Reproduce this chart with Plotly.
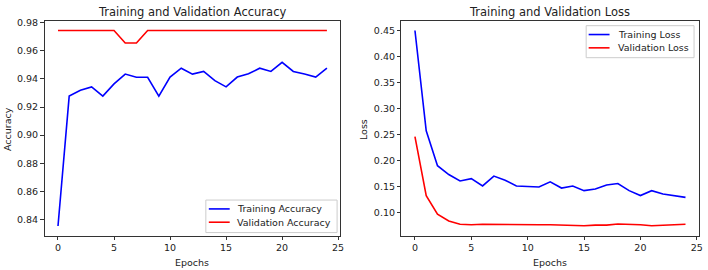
import plotly.graph_objects as go

epochs = list(range(25))

train_acc = [0.8353, 0.9278, 0.9320, 0.9344, 0.9278, 0.9365, 0.9435, 0.9412, 0.9412, 0.9278,
             0.9414, 0.9477, 0.9435, 0.9454, 0.9388, 0.9344, 0.9414, 0.9437, 0.9477, 0.9454,
             0.9519, 0.9454, 0.9435, 0.9414, 0.9477]
val_acc = [0.9746, 0.9746, 0.9746, 0.9746, 0.9746, 0.9746, 0.9657, 0.9657, 0.9746, 0.9746,
           0.9746, 0.9746, 0.9746, 0.9746, 0.9746, 0.9746, 0.9746, 0.9746, 0.9746, 0.9746,
           0.9746, 0.9746, 0.9746, 0.9746, 0.9746]
train_loss = [0.450, 0.257, 0.190, 0.173, 0.1606, 0.165, 0.151, 0.170, 0.162, 0.151,
              0.150, 0.149, 0.159, 0.147, 0.151, 0.142, 0.145, 0.153, 0.1556, 0.142,
              0.1325, 0.142, 0.1356, 0.1325, 0.129]
val_loss = [0.246, 0.1325, 0.0969, 0.0838, 0.0775, 0.0763, 0.0775, 0.0770, 0.0775, 0.0770,
            0.0763, 0.0763, 0.0763, 0.0756, 0.0744, 0.0744, 0.0756, 0.0756, 0.0780, 0.0775,
            0.0763, 0.0744, 0.0756, 0.0756, 0.0775]

acc_ticks = [0.84, 0.86, 0.88, 0.90, 0.92, 0.94, 0.96, 0.98]
loss_ticks = [0.10, 0.15, 0.20, 0.25, 0.30, 0.35, 0.40, 0.45]
x_ticks = [0, 5, 10, 15, 20, 25]

W, H = 708, 270
FONT = "DejaVu Sans"
TXT = "#222222"
SPINE = "#333333"
LW = 1.6

acc_series = [("Training Accuracy", train_acc, "blue"), ("Validation Accuracy", val_acc, "red")]
loss_series = [("Training Loss", train_loss, "blue"), ("Validation Loss", val_loss, "red")]

fig = go.Figure()
for name, vals, col in acc_series:
    fig.add_trace(go.Scatter(x=epochs, y=vals, mode="lines", name=name,
                             line=dict(color=col, width=LW), xaxis="x", yaxis="y"))
for name, vals, col in loss_series:
    fig.add_trace(go.Scatter(x=epochs, y=vals, mode="lines", name=name,
                             line=dict(color=col, width=LW), xaxis="x2", yaxis="y2"))

def ax(**kw):
    d = dict(showgrid=False, zeroline=False, showline=True, mirror=True, linecolor=SPINE,
             linewidth=1, ticks="outside", ticklen=3.5, tickwidth=1, tickcolor=SPINE,
             tickfont=dict(family=FONT, size=9.5, color=TXT))
    d.update(kw)
    return d

ydom = [35 / H, 253 / H]
fig.update_layout(
    width=W, height=H, margin=dict(l=0, r=0, t=0, b=0),
    paper_bgcolor="white", plot_bgcolor="white",
    font=dict(family=FONT, color=TXT),
    showlegend=False,
    xaxis=ax(domain=[44.8 / W, 342.3 / W], range=[-1.2, 25.2], tickvals=x_ticks, anchor="y"),
    yaxis=ax(domain=ydom, range=[0.8285, 0.9815], tickvals=acc_ticks,
             ticktext=[f"{v:.2f}" for v in acc_ticks], anchor="x"),
    xaxis2=ax(domain=[403.7 / W, 703 / W], range=[-1.2, 25.2], tickvals=x_ticks, anchor="y2"),
    yaxis2=ax(domain=ydom, range=[0.0557, 0.4688], tickvals=loss_ticks,
              ticktext=[f"{v:.2f}" for v in loss_ticks], anchor="x2"),
)

def px(x):
    return x / W

def py(y):
    return (H - y) / H

def txt(text, x, y, size=9.5, angle=0, xanchor="center"):
    fig.add_annotation(text=text, x=px(x), y=py(y), xref="paper", yref="paper",
                       xanchor=xanchor, yanchor="middle", showarrow=False, textangle=angle,
                       font=dict(family=FONT, size=size, color=TXT))

txt("Training and Validation Accuracy", 193.5, 8, size=11.5)
txt("Training and Validation Loss", 553, 8, size=11.5)
txt("Epochs", 193.5, 262)
txt("Epochs", 553, 262)
txt("Accuracy", 7, 127, angle=-90)
txt("Loss", 365, 127, angle=-90)

# legends (matplotlib-style boxes)
def legend(series, box, rows, sample_x, text_x):
    x0, y0, x1, y1 = box
    fig.add_shape(type="rect", xref="paper", yref="paper", x0=px(x0), x1=px(x1),
                  y0=py(y1), y1=py(y0), line=dict(color="#cccccc", width=1),
                  fillcolor="rgba(255,255,255,0.8)", layer="above")
    for (name, _, col), ry in zip(series, rows):
        fig.add_shape(type="line", xref="paper", yref="paper", x0=px(sample_x[0]),
                      x1=px(sample_x[1]), y0=py(ry), y1=py(ry),
                      line=dict(color=col, width=LW), layer="above")
        txt(name, text_x, ry, xanchor="left")

legend(acc_series, (207, 199, 339, 232), (208, 221.5), (210, 231), 236.5)
legend(loss_series, (589.5, 22, 698, 54.5), (31, 44.5), (592, 613), 619)

fig.write_html("out.html", config={"displayModeBar": False},
               post_script="document.body.style.margin='0';document.body.style.padding='0';"
                           "document.body.style.overflow='hidden';")
